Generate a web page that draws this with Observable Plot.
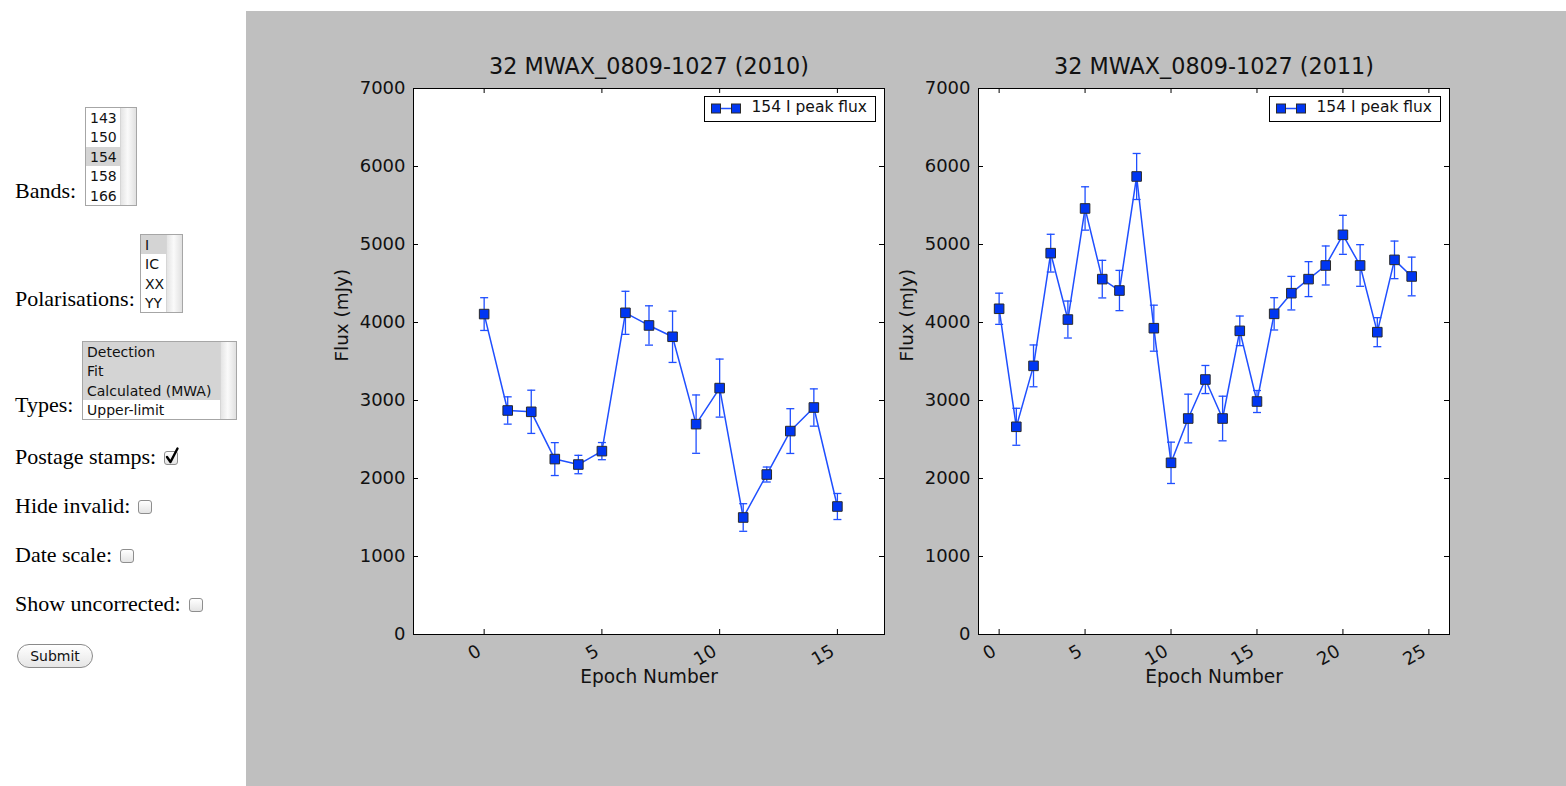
<!DOCTYPE html>
<html>
<head>
<meta charset="utf-8">
<script src="https://cdn.jsdelivr.net/npm/d3@7"></script>
<script src="https://cdn.jsdelivr.net/npm/@observablehq/plot@0.6"></script>
<style>
html,body{margin:0;padding:0;background:#fff;}
body{width:1566px;height:786px;position:relative;overflow:hidden;font-family:"Liberation Serif","Times New Roman",serif;}
.panel{position:absolute;left:246px;top:11px;width:1320px;height:775px;background:#bfbfbf;}
.chart{position:absolute;top:11px;}
.lbl{position:absolute;left:15px;font-size:22px;line-height:22px;color:#000;white-space:nowrap;}
.lb{position:absolute;border:1px solid #a6a6a6;background:#fff;font-family:"DejaVu Sans",sans-serif;font-size:14px;box-sizing:border-box;overflow:hidden;color:#111;}
.lb .opt{height:19.4px;line-height:21px;padding-left:4px;white-space:nowrap;}
.lb .sel{background:#d4d4d4;}
.lb .sb{position:absolute;right:0;top:0;bottom:0;width:15px;background:linear-gradient(to right,#e4e4e4,#fafafa 45%,#e0e0e0);border-left:1px solid #d6d6d6;}
.cb{display:inline-block;position:relative;width:14px;height:14px;border:1px solid #8e8e8e;border-radius:3px;background:linear-gradient(#ffffff,#e4e4e4);box-sizing:border-box;margin-left:8px;vertical-align:-1px;}
.cb svg{position:absolute;left:-1px;top:-5px;overflow:visible;}
.btn{position:absolute;left:17px;top:644px;width:76px;height:24px;border:1px solid #8a8a8a;border-radius:12px;box-sizing:border-box;background:linear-gradient(#ffffff,#e6e6e6);font-family:"DejaVu Sans",sans-serif;font-size:14px;line-height:22px;text-align:center;color:#111;}
.legend{position:absolute;}
</style>
</head>
<body>
<div class="panel"></div>

<div class="lbl" style="top:180px">Bands:</div>
<div class="lb" style="left:85px;top:107px;width:52px;height:99px">
  <div class="opt">143</div><div class="opt">150</div><div class="opt sel">154</div><div class="opt">158</div><div class="opt">166</div>
  <div class="sb"></div>
</div>

<div class="lbl" style="top:288px">Polarisations:</div>
<div class="lb" style="left:140px;top:234px;width:43px;height:79px">
  <div class="opt sel">I</div><div class="opt">IC</div><div class="opt">XX</div><div class="opt">YY</div>
  <div class="sb"></div>
</div>

<div class="lbl" style="top:394px">Types:</div>
<div class="lb" style="left:82px;top:341px;width:155px;height:79px">
  <div class="opt sel">Detection</div><div class="opt sel">Fit</div><div class="opt sel">Calculated (MWA)</div><div class="opt">Upper-limit</div>
  <div class="sb"></div>
</div>

<div class="lbl" style="top:446px">Postage stamps:<span class="cb"><svg width="16" height="18" viewBox="0 0 16 18"><path d="M3 10 L6.5 15 L13.5 1.5" fill="none" stroke="#000" stroke-width="2.4" stroke-linecap="round" stroke-linejoin="round"/></svg></span></div>
<div class="lbl" style="top:495px">Hide invalid:<span class="cb"></span></div>
<div class="lbl" style="top:544px">Date scale:<span class="cb"></span></div>
<div class="lbl" style="top:593px">Show uncorrected:<span class="cb"></span></div>
<div class="btn">Submit</div>

<div id="c1" class="chart" style="left:290px"></div>
<div id="c2" class="chart" style="left:890px"></div>

<script>
// ---- data ----
const epochs2010 = [0, 1, 2, 3, 4, 5, 6, 7, 8, 9, 10, 11, 12, 13, 14, 15];
const flux2010   = [4108, 2872, 2855, 2249, 2179, 2351, 4124, 3962, 3817, 2697, 3159, 1500, 2051, 2608, 2910, 1641];
const err2010    = [210, 175, 277, 211, 118, 110, 276, 252, 329, 374, 372, 177, 96, 287, 239, 167];

const epochs2011 = [0, 1, 2, 3, 4, 5, 6, 7, 8, 9, 10, 11, 12, 13, 14, 15, 16, 17, 18, 19, 20, 21, 22, 23, 24];
const flux2011   = [4176, 2663, 3444, 4889, 4038, 5462, 4556, 4410, 5872, 3927, 2201, 2769, 3269, 2769, 3893, 2987, 4111, 4376, 4556, 4731, 5124, 4731, 3876, 4803, 4590];
const err2011    = [200, 237, 268, 242, 237, 278, 241, 258, 295, 295, 265, 312, 180, 286, 190, 141, 207, 215, 224, 250, 250, 267, 186, 241, 248];

const xTicks2010 = [0, 5, 10, 15];
const xTicks2011 = [0, 5, 10, 15, 20, 25];
const yTicks = [0, 1000, 2000, 3000, 4000, 5000, 6000, 7000];
const xDomain2010 = [-3, 17];
const xDomain2011 = [-1.2, 26.2];
const yDomain = [0, 7000];

const title2010 = "32 MWAX_0809-1027 (2010)";
const title2011 = "32 MWAX_0809-1027 (2011)";
const legendLabel = "154 I peak flux";
const xLabel = "Epoch Number";
const yLabel = "Flux (mJy)";

// ---- styles ----
const lineBlue = "#1f4fff";
const markerBlue = "#0036f2";
const markerEdge = "#2a2a2a";
const fontFamily = "DejaVu Sans";

function rows(ep, fl, er) {
  return ep.map((e, i) => ({epoch: e, flux: fl[i], err: er[i]}));
}

const capSymbol = {
  draw(ctx, size) {
    const r = Math.sqrt(size / Math.PI);
    ctx.moveTo(-r, 0);
    ctx.lineTo(r, 0);
  }
};

function chart({data, xDomain, xTicks, title, width, marginLeft, marginRight}) {
  const height = 775, marginTop = 77, marginBottom = 152;
  const ph = height - marginTop - marginBottom;
  const pw = width - marginLeft - marginRight;
  const tl = 5;
  return Plot.plot({
    width, height, marginLeft, marginRight, marginTop, marginBottom,
    style: {background: "transparent", fontFamily, color: "black", overflow: "visible"},
    x: {domain: xDomain, axis: null},
    y: {domain: yDomain, axis: null},
    marks: [
      Plot.frame({fill: "white"}),
      Plot.tickX(xTicks, {x: d => d, insetTop: ph - tl, stroke: "black", strokeWidth: 1}),
      Plot.tickX(xTicks, {x: d => d, insetBottom: ph - tl, stroke: "black", strokeWidth: 1}),
      Plot.tickY(yTicks, {y: d => d, insetRight: pw - tl, stroke: "black", strokeWidth: 1}),
      Plot.tickY(yTicks, {y: d => d, insetLeft: pw - tl, stroke: "black", strokeWidth: 1}),
      Plot.line(data, {x: "epoch", y: "flux", stroke: lineBlue, strokeWidth: 1.5}),
      Plot.ruleX(data, {x: "epoch", y1: d => d.flux - d.err, y2: d => d.flux + d.err, stroke: lineBlue, strokeWidth: 1.3}),
      Plot.dot(data, {x: "epoch", y: d => d.flux - d.err, symbol: capSymbol, r: 4, stroke: lineBlue, strokeWidth: 1.3, fill: "none"}),
      Plot.dot(data, {x: "epoch", y: d => d.flux + d.err, symbol: capSymbol, r: 4, stroke: lineBlue, strokeWidth: 1.3, fill: "none"}),
      Plot.dot(data, {x: "epoch", y: "flux", symbol: "square", r: 5.4, fill: markerBlue, stroke: markerEdge, strokeWidth: 1}),
      Plot.frame({stroke: "black", strokeWidth: 1}),
      Plot.text(yTicks, {y: d => d, text: d => String(d), frameAnchor: "left", textAnchor: "end", dx: -8, fontSize: 18, fill: "#111"}),
      Plot.text(xTicks, {x: d => d, text: d => String(d), frameAnchor: "bottom", rotate: -30, textAnchor: "end", lineAnchor: "top", dx: -8, dy: 9, fontSize: 18, fill: "#111"}),
      Plot.text([xLabel], {text: d => d, frameAnchor: "bottom", lineAnchor: "bottom", dy: 48, fontSize: 18.6, fill: "#111"}),
      Plot.text([yLabel], {text: d => d, frameAnchor: "left", rotate: -90, lineAnchor: "bottom", dx: -66, fontSize: 18.4, fill: "#111"}),
      Plot.text([title], {text: d => d, frameAnchor: "top", lineAnchor: "bottom", dy: -14.7, fontSize: 22.3, fill: "#111"})
    ]
  });
}

function legend(left, top) {
  const w = 172, h = 26;
  const ns = "http://www.w3.org/2000/svg";
  const div = document.createElement("div");
  div.className = "legend";
  div.style.left = left + "px";
  div.style.top = top + "px";
  div.innerHTML =
    `<svg xmlns="${ns}" width="${w}" height="${h}">` +
    `<rect x="0.5" y="0.5" width="${w - 1}" height="${h - 1}" fill="white" stroke="black" stroke-width="1"/>` +
    `<line x1="12" x2="32" y1="12.5" y2="12.5" stroke="${lineBlue}" stroke-width="1.5"/>` +
    `<rect x="7.5" y="8" width="9" height="9" fill="${markerBlue}" stroke="${markerEdge}" stroke-width="1"/>` +
    `<rect x="27.5" y="8" width="9" height="9" fill="${markerBlue}" stroke="${markerEdge}" stroke-width="1"/>` +
    `<text x="47.5" y="16" font-family="${fontFamily}" font-size="15.5" fill="#111">${legendLabel}</text>` +
    `</svg>`;
  document.body.appendChild(div);
}

document.getElementById("c1").appendChild(chart({
  data: rows(epochs2010, flux2010, err2010), xDomain: xDomain2010, xTicks: xTicks2010,
  title: title2010, width: 600, marginLeft: 123, marginRight: 6
}));
document.getElementById("c2").appendChild(chart({
  data: rows(epochs2011, flux2011, err2011), xDomain: xDomain2011, xTicks: xTicks2011,
  title: title2011, width: 676, marginLeft: 88, marginRight: 117
}));
legend(704, 96);
legend(1269, 96);
</script>
</body>
</html>
